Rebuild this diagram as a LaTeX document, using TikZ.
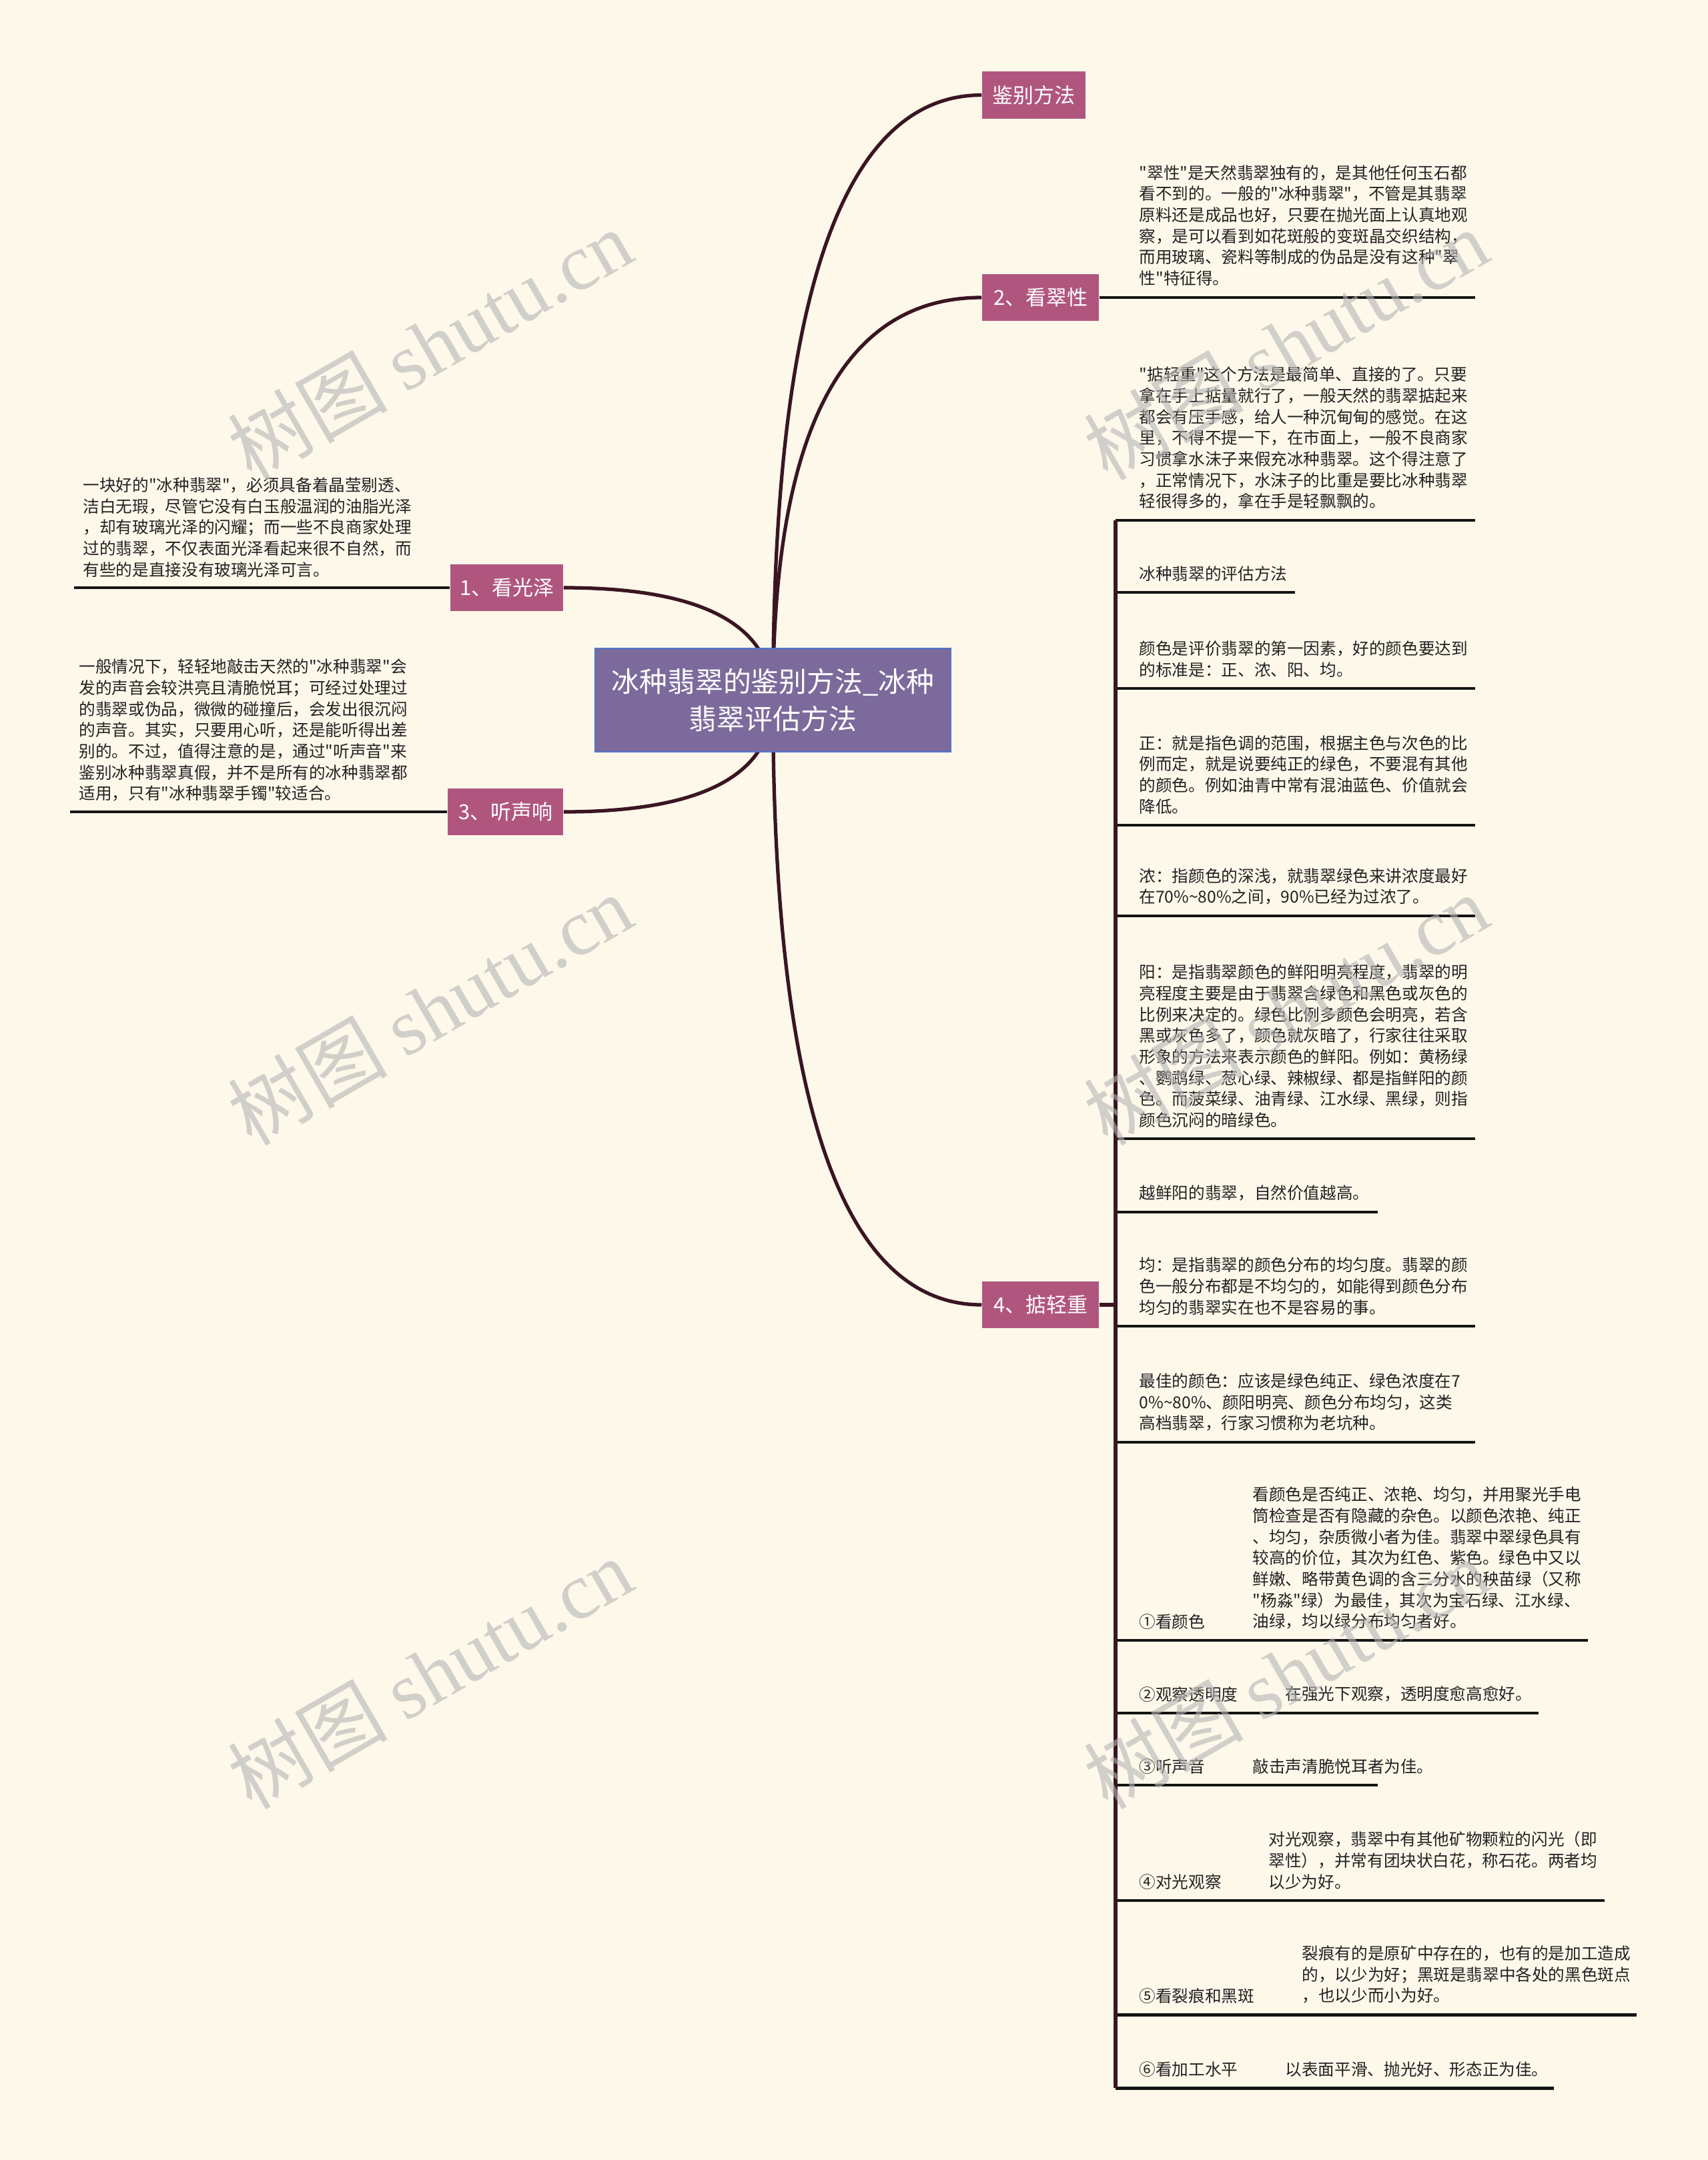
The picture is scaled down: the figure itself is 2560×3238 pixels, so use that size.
\documentclass[tikz,border=0pt]{standalone}
\usepackage{fontspec}
\setmainfont{Noto Sans CJK SC}[Ligatures=TeXOff]
\newfontfamily\wmserif{Liberation Serif}
\newfontfamily\wmcjk{Noto Sans CJK SC}
\usetikzlibrary{calc}
\definecolor{bgc}{HTML}{FDF8EA}
\definecolor{pinkc}{HTML}{B0567E}
\definecolor{rootc}{HTML}{7B6A9B}
\definecolor{rootb}{HTML}{4F74CC}
\definecolor{connc}{HTML}{3A1522}
\definecolor{linec}{HTML}{141414}
\definecolor{txtc}{HTML}{222222}
\definecolor{wmc}{HTML}{B4B4B4}
\pgfdeclarelayer{back}
\pgfdeclarelayer{lines}
\pgfsetlayers{back,lines,main}
\tikzset{
  rootbox/.style={fill=rootc, draw=rootb, line width=0.7pt, text=white, align=center,
    font=\fontsize{11.9pt}{15.9pt}\selectfont, inner sep=0pt,
    minimum width=5.33cm, minimum height=1.55cm},
  branch/.style={fill=pinkc, text=white, font=\fontsize{8.8pt}{10pt}\selectfont,
    inner sep=0pt, minimum height=0.70cm},
  blk/.style={font=\fontsize{7pt}{9pt}\selectfont, text=txtc, align=left,
    inner sep=0pt, anchor=south west},
  conn/.style={draw=connc, line width=1.5pt},
  uline/.style={draw=linec, line width=1.4pt},
  wm/.style={text=wmc, opacity=0.6, rotate=30, inner sep=0pt,
    font=\fontsize{34pt}{34pt}\selectfont}
}
\newcommand\qcurve[2]{\draw[conn] (#1) .. controls ($(#1)!0.6667!(#1|-#2)$) and ($(#2)!0.6667!(#1|-#2)$) .. (#2);}
\begin{document}
\begin{tikzpicture}[x=0.01cm, y=-0.01cm]
\useasboundingbox (0,0) rectangle (2560,3238);
\begin{pgfonlayer}{back}
  \fill[bgc] (0,0) rectangle (2560,3238);
\end{pgfonlayer}

% root and branches
\node[rootbox] (root) at (1158.5,1049.5) {冰种翡翠的鉴别方法\_冰种\\翡翠评估方法};
\node[branch, minimum width=1.55cm] (b0) at (1549.5,142.5) {鉴别方法};
\node[branch, minimum width=1.75cm] (b2) at (1559.5,446) {2、看翠性};
\node[branch, minimum width=1.69cm] (b1) at (759.5,881) {1、看光泽};
\node[branch, minimum width=1.73cm] (b3) at (757.5,1217) {3、听声响};
\node[branch, minimum width=1.75cm] (b4) at (1559.5,1956) {4、掂轻重};

% text of 2
\node[blk] (t2) at (1707,429) {"翠性"是天然翡翠独有的，是其他任何玉石都\\看不到的。一般的"冰种翡翠"，不管是其翡翠\\原料还是成品也好，只要在抛光面上认真地观\\察，是可以看到如花斑般的变斑晶交织结构，\\而用玻璃、瓷料等制成的伪品是没有这种"翠\\性"特征得。};

% left texts
\node[blk] (t1) at (124,866) {一块好的"冰种翡翠"，必须具备着晶莹剔透、\\洁白无瑕，尽管它没有白玉般温润的油脂光泽\\，却有玻璃光泽的闪耀；而一些不良商家处理\\过的翡翠，不仅表面光泽看起来很不自然，而\\有些的是直接没有玻璃光泽可言。};
\node[blk] (t3) at (118,1202) {一般情况下，轻轻地敲击天然的"冰种翡翠"会\\发的声音会较洪亮且清脆悦耳；可经过处理过\\的翡翠或伪品，微微的碰撞后，会发出很沉闷\\的声音。其实，只要用心听，还是能听得出差\\别的。不过，值得注意的是，通过"听声音"来\\鉴别冰种翡翠真假，并不是所有的冰种翡翠都\\适用，只有"冰种翡翠手镯"较适合。};

% children of 4
\node[blk] (c1) at (1707,764) {"掂轻重"这个方法是最简单、直接的了。只要\\拿在手上掂量就行了，一般天然的翡翠掂起来\\都会有压手感，给人一种沉甸甸的感觉。在这\\里，不得不提一下，在市面上，一般不良商家\\习惯拿水沫子来假充冰种翡翠。这个得注意了\\，正常情况下，水沫子的比重是要比冰种翡翠\\轻很得多的，拿在手是轻飘飘的。};
\node[blk] (c2) at (1707,872) {冰种翡翠的评估方法};
\node[blk] (c3) at (1707,1016) {颜色是评价翡翠的第一因素，好的颜色要达到\\的标准是：正、浓、阳、均。};
\node[blk] (c4) at (1707,1221) {正：就是指色调的范围，根据主色与次色的比\\例而定，就是说要纯正的绿色，不要混有其他\\的颜色。例如油青中常有混油蓝色、价值就会\\降低。};
\node[blk] (c5) at (1707,1357) {浓：指颜色的深浅，就翡翠绿色来讲浓度最好\\在70\%\textasciitilde80\%之间，90\%已经为过浓了。};
\node[blk] (c6) at (1707,1691) {阳：是指翡翠颜色的鲜阳明亮程度，翡翠的明\\亮程度主要是由于翡翠含绿色和黑色或灰色的\\比例来决定的。绿色比例多颜色会明亮，若含\\黑或灰色多了，颜色就灰暗了，行家往往采取\\形象的方法来表示颜色的鲜阳。例如：黄杨绿\\、鹦鹉绿、葱心绿、辣椒绿、都是指鲜阳的颜\\色。而菠菜绿、油青绿、江水绿、黑绿，则指\\颜色沉闷的暗绿色。};
\node[blk] (c7) at (1707,1801) {越鲜阳的翡翠，自然价值越高。};
\node[blk] (c8) at (1707,1972) {均：是指翡翠的颜色分布的均匀度。翡翠的颜\\色一般分布都是不均匀的，如能得到颜色分布\\均匀的翡翠实在也不是容易的事。};
\node[blk] (c9) at (1707,2146) {最佳的颜色：应该是绿色纯正、绿色浓度在7\\0\%\textasciitilde80\%、颜阳明亮、颜色分布均匀，这类\\高档翡翠，行家习惯称为老坑种。};

\node[blk] (l10) at (1707,2443) {①看颜色};
\node[blk] (c10) at (1877,2443) {看颜色是否纯正、浓艳、均匀，并用聚光手电\\筒检查是否有隐藏的杂色。以颜色浓艳、纯正\\、均匀，杂质微小者为佳。翡翠中翠绿色具有\\较高的价位，其次为红色、紫色。绿色中又以\\鲜嫩、略带黄色调的含三分水的秧苗绿（又称\\"杨淼"绿）为最佳，其次为宝石绿、江水绿、\\油绿，均以绿分布均匀者好。};
\node[blk] (l11) at (1707,2552) {②观察透明度};
\node[blk] (c11) at (1926,2552) {在强光下观察，透明度愈高愈好。};
\node[blk] (l12) at (1707,2660) {③听声音};
\node[blk] (c12) at (1877,2660) {敲击声清脆悦耳者为佳。};
\node[blk] (l13) at (1707,2833) {④对光观察};
\node[blk] (c13) at (1901,2833) {对光观察，翡翠中有其他矿物颗粒的闪光（即\\翠性），并常有团块状白花，称石花。两者均\\以少为好。};
\node[blk] (l14) at (1707,3004) {⑤看裂痕和黑斑};
\node[blk] (c14) at (1951,3004) {裂痕有的是原矿中存在的，也有的是加工造成\\的，以少为好；黑斑是翡翠中各处的黑色斑点\\，也以少而小为好。};
\node[blk] (l15) at (1707,3114) {⑥看加工水平};
\node[blk] (c15) at (1926,3114) {以表面平滑、抛光好、形态正为佳。};

% connectors
\begin{pgfonlayer}{lines}
  \qcurve{root.center}{b0.west}
  \qcurve{root.center}{b2.west}
  \qcurve{root.center}{b4.west}
  \qcurve{root.center}{b1.east}
  \qcurve{root.center}{b3.east}
  \coordinate (e2) at (2211,446);
  \draw[uline] (b2.east) -- (e2);
  \coordinate (e1) at (111,881);
  \draw[uline] (b1.west) -- (e1);
  \coordinate (e3) at (105,1217);
  \draw[uline] (b3.west) -- (e3);
  \foreach \i/\yy/\xe in {1/780/2211, 2/888/1941, 3/1032/2211, 4/1237/2211, 5/1373/2211,
      6/1707/2211, 7/1817/2065, 8/1988/2211, 9/2162/2211, 10/2459/2380, 11/2568/2306,
      12/2676/2065, 13/2849/2405, 14/3020/2453, 15/3130/2329} {
    \coordinate (us\i) at (1672,\yy);
    \coordinate (ue\i) at (\xe,\yy);
    \draw[uline] (us\i) -- (ue\i);
  }
  \coordinate (bj) at (us1 |- b4.east);
  \draw[conn] (b4.east) -- (bj);
  \draw[conn] (us1) -- (us15);
\end{pgfonlayer}

% watermarks
\foreach \k/\px/\py in {1/644/516, 2/644/1513, 3/644/2508, 4/1927/516, 5/1927/1513, 6/1927/2508} {
  \node[wm] (wm\k) at (\px,\py) {{\wmcjk 树图} {\wmserif shutu.cn}};
}
\end{tikzpicture}
\end{document}
